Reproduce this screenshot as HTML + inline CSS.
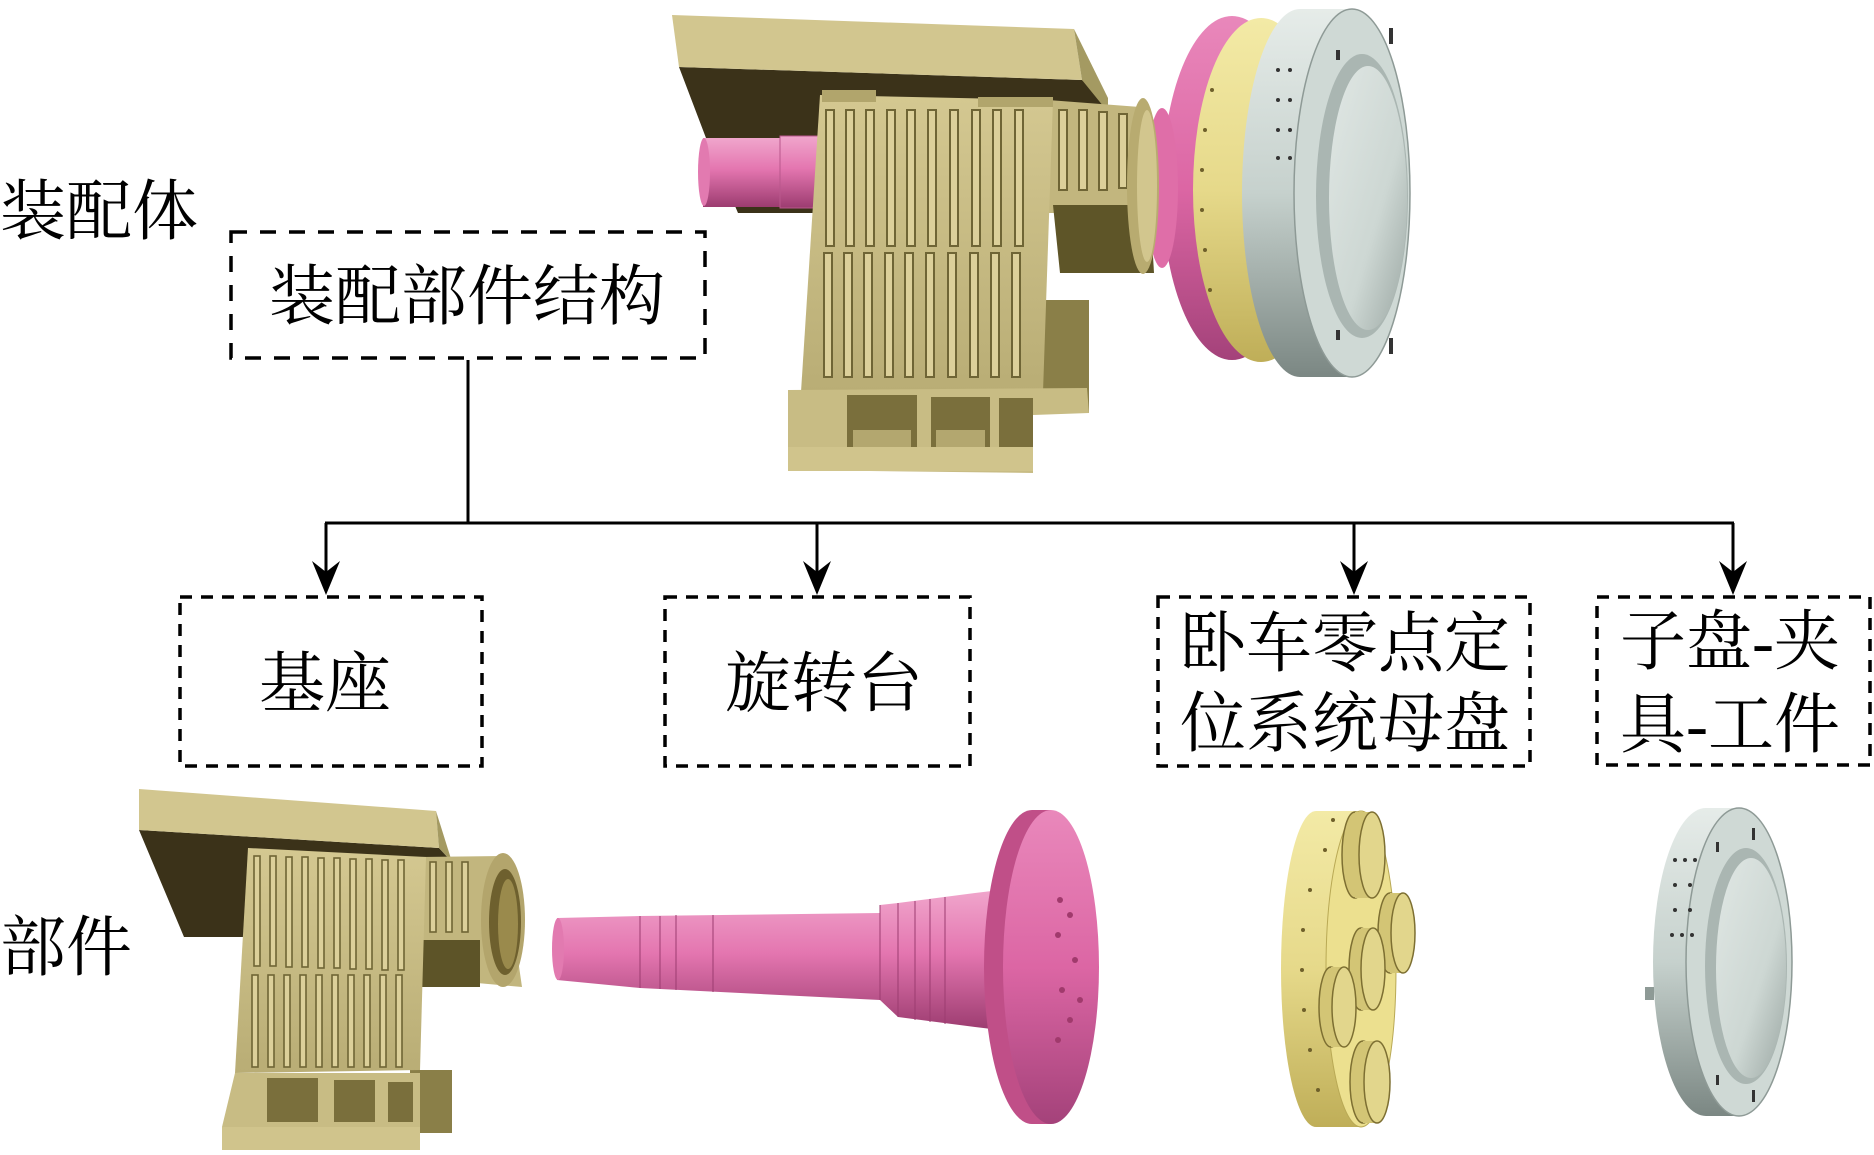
<!DOCTYPE html>
<html><head><meta charset="utf-8"><style>
html,body{margin:0;padding:0;background:#fff;}
svg{display:block;}
.t{font-family:"Liberation Serif","Noto Serif CJK SC",serif;font-size:66px;fill:#000;}
</style></head><body>
<svg width="1874" height="1155" viewBox="0 0 1874 1155" xmlns="http://www.w3.org/2000/svg">
<defs>
 <linearGradient id="pinkV" x1="0" y1="0" x2="0" y2="1">
  <stop offset="0" stop-color="#f0a6cc"/><stop offset="0.45" stop-color="#e476b0"/><stop offset="1" stop-color="#9c3c70"/>
 </linearGradient>
 <linearGradient id="pinkD" x1="0" y1="0" x2="0" y2="1">
  <stop offset="0" stop-color="#e988bb"/><stop offset="0.5" stop-color="#dc66a4"/><stop offset="1" stop-color="#a4427a"/>
 </linearGradient>
 <linearGradient id="yelD" x1="0" y1="0" x2="0" y2="1">
  <stop offset="0" stop-color="#f3eaa6"/><stop offset="0.5" stop-color="#e6d98a"/><stop offset="1" stop-color="#bfae58"/>
 </linearGradient>
 <linearGradient id="grayD" x1="0" y1="0" x2="0" y2="1">
  <stop offset="0" stop-color="#e6ece9"/><stop offset="0.5" stop-color="#c6d1cd"/><stop offset="1" stop-color="#7b8783"/>
 </linearGradient>
 <linearGradient id="grayIn" x1="0" y1="0" x2="1" y2="1">
  <stop offset="0" stop-color="#e0e7e4"/><stop offset="0.6" stop-color="#cdd7d3"/><stop offset="1" stop-color="#9aa6a2"/>
 </linearGradient>
 <linearGradient id="tanV" x1="0" y1="0" x2="0" y2="1">
  <stop offset="0" stop-color="#d4c891"/><stop offset="1" stop-color="#b9ad75"/>
 </linearGradient>
</defs>

<!-- ================= TOP ASSEMBLY ================= -->
<polygon points="679,67 1082,80 1108,100 1108,187 820,187 820,213 738,213 706,138" fill="#3b3219"/>
<polygon points="672,15 1074,29 1082,80 679,67" fill="#d2c68f"/>
<polygon points="1074,29 1108,98 1108,112 1082,80" fill="#a49a62"/>
<rect x="703" y="138" width="117" height="69" fill="url(#pinkV)"/>
<ellipse cx="704" cy="172" rx="6" ry="34" fill="#e27ab0"/>
<rect x="780" y="136" width="40" height="72" fill="url(#pinkV)" stroke="#b9578c" stroke-width="1"/>
<polygon points="1036,300 1089,300 1089,413 1036,413" fill="#8a7f48"/>
<polygon points="1048,100 1140,107 1145,187 1125,213 1048,213" fill="#c2b67e"/>
<polygon points="1053,205 1150,205 1154,273 1060,273" fill="#5e5528"/>
<polygon points="820,95 1053,100 1043,392 801,392" fill="url(#tanV)"/>
<rect x="822" y="90" width="54" height="12" fill="#b1a56c"/>
<rect x="978" y="97" width="75" height="10" fill="#b1a56c"/>
<g fill="#dcd09a" stroke="#6f6535" stroke-width="2">
 <rect x="826" y="110" width="8" height="136"/><rect x="846" y="110" width="8" height="136"/>
 <rect x="866" y="110" width="8" height="136"/><rect x="887" y="110" width="8" height="136"/>
 <rect x="907" y="110" width="8" height="136"/><rect x="928" y="110" width="8" height="136"/>
 <rect x="950" y="110" width="8" height="136"/><rect x="972" y="110" width="8" height="136"/>
 <rect x="993" y="110" width="8" height="136"/><rect x="1015" y="110" width="8" height="136"/>
 <rect x="824" y="253" width="8" height="124"/><rect x="844" y="253" width="8" height="124"/>
 <rect x="864" y="253" width="8" height="124"/><rect x="885" y="253" width="8" height="124"/>
 <rect x="905" y="253" width="8" height="124"/><rect x="926" y="253" width="8" height="124"/>
 <rect x="948" y="253" width="8" height="124"/><rect x="970" y="253" width="8" height="124"/>
 <rect x="991" y="253" width="8" height="124"/><rect x="1012" y="253" width="8" height="124"/>
 <rect x="1059" y="110" width="8" height="80"/><rect x="1079" y="110" width="8" height="80"/>
 <rect x="1099" y="112" width="8" height="78"/><rect x="1119" y="114" width="8" height="74"/>
</g>
<polygon points="788,390 1087,388 1089,413 1033,415 1033,473 788,470" fill="#c8bc84"/>
<g fill="#7a6f3c">
 <rect x="847" y="395" width="70" height="52"/>
 <rect x="931" y="397" width="59" height="50"/>
 <rect x="999" y="398" width="34" height="49"/>
</g>
<g fill="#b3a76f">
 <rect x="853" y="430" width="58" height="17"/>
 <rect x="936" y="430" width="49" height="17"/>
</g>
<rect x="788" y="447" width="245" height="24" fill="#d0c48c"/>
<ellipse cx="1232" cy="188" rx="70" ry="172" fill="url(#pinkD)"/>
<ellipse cx="1162" cy="188" rx="16" ry="80" fill="#df6ea8"/>
<ellipse cx="1143" cy="186" rx="16" ry="88" fill="#b8ab70"/>
<ellipse cx="1147" cy="186" rx="10" ry="76" fill="#d2c68e"/>
<ellipse cx="1261" cy="190" rx="68" ry="172" fill="url(#yelD)"/>
<g fill="#6e5f2a">
 <circle cx="1212" cy="90" r="2"/><circle cx="1205" cy="130" r="2"/><circle cx="1202" cy="170" r="2"/>
 <circle cx="1202" cy="210" r="2"/><circle cx="1205" cy="250" r="2"/><circle cx="1210" cy="290" r="2"/>
</g>
<ellipse cx="1300" cy="193" rx="58" ry="184" fill="url(#grayD)"/>
<rect x="1300" y="9" width="52" height="368" fill="url(#grayD)"/>
<ellipse cx="1352" cy="193" rx="58" ry="184" fill="#cfd9d5" stroke="#8e9a96" stroke-width="1.5"/>
<ellipse cx="1362" cy="196" rx="46" ry="142" fill="#aab6b2"/>
<ellipse cx="1368" cy="198" rx="39" ry="132" fill="url(#grayIn)"/>
<g fill="#333">
 <circle cx="1278" cy="70" r="2"/><circle cx="1290" cy="70" r="2"/><circle cx="1278" cy="100" r="2"/><circle cx="1290" cy="100" r="2"/>
 <circle cx="1278" cy="130" r="2"/><circle cx="1290" cy="130" r="2"/><circle cx="1278" cy="158" r="2"/><circle cx="1290" cy="158" r="2"/>
 <rect x="1389" y="28" width="4" height="16"/><rect x="1389" y="338" width="4" height="16"/>
 <rect x="1336" y="50" width="4" height="10"/><rect x="1336" y="330" width="4" height="10"/>
</g>

<!-- ================= BOTTOM: BASE ================= -->
<polygon points="139,830 439,848 452,862 452,870 248,860 244,937 184,937" fill="#3b3219"/>
<polygon points="139,789 436,811 439,848 139,830" fill="#d2c68f"/>
<polygon points="436,811 452,862 439,848" fill="#a49a62"/>
<polygon points="410,1070 452,1070 452,1133 410,1133" fill="#8a7f48"/>
<polygon points="420,857 503,856 522,987 477,983 420,980" fill="#c2b67e"/>
<rect x="420" y="940" width="60" height="47" fill="#5d5428"/>
<polygon points="248,848 426,857 420,1070 235,1073" fill="url(#tanV)"/>
<g fill="#dcd09a" stroke="#6f6535" stroke-width="1.6">
 <rect x="254" y="856" width="6" height="110"/><rect x="270" y="856" width="6" height="110"/>
 <rect x="286" y="857" width="6" height="110"/><rect x="302" y="857" width="6" height="110"/>
 <rect x="318" y="858" width="6" height="110"/><rect x="334" y="858" width="6" height="110"/>
 <rect x="350" y="859" width="6" height="110"/><rect x="366" y="859" width="6" height="110"/>
 <rect x="382" y="860" width="6" height="110"/><rect x="398" y="860" width="6" height="110"/>
 <rect x="252" y="975" width="6" height="92"/><rect x="268" y="975" width="6" height="92"/>
 <rect x="284" y="975" width="6" height="92"/><rect x="300" y="975" width="6" height="92"/>
 <rect x="316" y="975" width="6" height="92"/><rect x="332" y="975" width="6" height="92"/>
 <rect x="348" y="975" width="6" height="92"/><rect x="364" y="975" width="6" height="92"/>
 <rect x="380" y="975" width="6" height="92"/><rect x="396" y="975" width="6" height="92"/>
 <rect x="430" y="862" width="6" height="70"/><rect x="446" y="862" width="6" height="70"/>
 <rect x="462" y="862" width="6" height="70"/>
</g>
<polygon points="235,1073 420,1073 420,1148 222,1150 222,1127" fill="#c8bc84"/>
<g fill="#7a6f3c">
 <rect x="267" y="1078" width="51" height="44"/><rect x="334" y="1080" width="41" height="42"/><rect x="388" y="1082" width="25" height="40"/>
</g>
<rect x="222" y="1127" width="198" height="23" fill="#d0c48c"/>
<ellipse cx="503" cy="920" rx="22" ry="67" fill="#b3a56c"/>
<ellipse cx="505" cy="922" rx="16" ry="53" fill="#6e602e"/>
<ellipse cx="508" cy="924" rx="10" ry="45" fill="#9a8a4c"/>

<!-- ================= BOTTOM: PINK SHAFT ================= -->
<polygon points="557,918 640,916 880,913 880,905 898,903 975,893 1000,890 1000,1030 975,1027 898,1017 880,1000 640,988 557,980" fill="url(#pinkV)"/>
<ellipse cx="558" cy="949" rx="6" ry="31" fill="#e27ab0"/>
<g stroke="#9c3c70" stroke-width="1" fill="none">
 <line x1="640" y1="916" x2="640" y2="988"/><line x1="660" y1="916" x2="660" y2="989"/>
 <line x1="676" y1="915" x2="676" y2="990"/><line x1="713" y1="915" x2="713" y2="992"/>
 <line x1="880" y1="905" x2="880" y2="1000"/><line x1="898" y1="903" x2="898" y2="1017"/>
 <line x1="915" y1="901" x2="915" y2="1020"/><line x1="930" y1="899" x2="930" y2="1022"/>
 <line x1="945" y1="897" x2="945" y2="1024"/>
</g>
<ellipse cx="1032" cy="967" rx="48" ry="157" fill="#c04f88"/>
<rect x="1032" y="810" width="19" height="314" fill="#c04f88"/>
<ellipse cx="1051" cy="967" rx="48" ry="157" fill="url(#pinkD)"/>
<g fill="#a03a6c">
 <circle cx="1060" cy="900" r="3"/><circle cx="1070" cy="915" r="3"/><circle cx="1058" cy="935" r="3"/>
 <circle cx="1075" cy="960" r="3"/><circle cx="1062" cy="990" r="3"/><circle cx="1070" cy="1020" r="3"/>
 <circle cx="1058" cy="1040" r="3"/><circle cx="1080" cy="1000" r="3"/>
</g>

<!-- ================= BOTTOM: YELLOW DISC ================= -->
<ellipse cx="1316" cy="969" rx="35" ry="158" fill="url(#yelD)"/>
<rect x="1316" y="811" width="45" height="316" fill="url(#yelD)"/>
<ellipse cx="1361" cy="969" rx="35" ry="158" fill="#ece08f" stroke="#b9a955" stroke-width="1"/>
<g fill="#d3c575" stroke="#7d6f32" stroke-width="1.5">
 <ellipse cx="1355" cy="855" rx="13" ry="43"/><rect x="1355" y="812" width="17" height="86" stroke="none"/><ellipse cx="1372" cy="855" rx="13" ry="43" fill="#e2d68c"/>
 <ellipse cx="1390" cy="933" rx="12" ry="40"/><rect x="1390" y="893" width="13" height="80" stroke="none"/><ellipse cx="1403" cy="933" rx="12" ry="40" fill="#e2d68c"/>
 <ellipse cx="1361" cy="969" rx="12" ry="41"/><rect x="1361" y="928" width="12" height="82" stroke="none"/><ellipse cx="1373" cy="969" rx="12" ry="41" fill="#e2d68c"/>
 <ellipse cx="1331" cy="1007" rx="12" ry="40"/><rect x="1331" y="967" width="13" height="80" stroke="none"/><ellipse cx="1344" cy="1007" rx="12" ry="40" fill="#e2d68c"/>
 <ellipse cx="1363" cy="1082" rx="13" ry="41"/><rect x="1363" y="1041" width="14" height="82" stroke="none"/><ellipse cx="1377" cy="1082" rx="13" ry="41" fill="#e2d68c"/>
</g>
<g fill="#6e5f2a">
 <circle cx="1333" cy="820" r="2"/><circle cx="1325" cy="850" r="2"/><circle cx="1310" cy="890" r="2"/>
 <circle cx="1303" cy="930" r="2"/><circle cx="1302" cy="970" r="2"/><circle cx="1304" cy="1010" r="2"/>
 <circle cx="1310" cy="1050" r="2"/><circle cx="1318" cy="1090" r="2"/>
</g>

<!-- ================= BOTTOM: GRAY RING ================= -->
<ellipse cx="1706" cy="962" rx="53" ry="154" fill="url(#grayD)"/>
<rect x="1706" y="808" width="33" height="308" fill="url(#grayD)"/>
<ellipse cx="1739" cy="962" rx="53" ry="154" fill="#cfd9d5" stroke="#8e9a96" stroke-width="1.5"/>
<ellipse cx="1746" cy="966" rx="41" ry="118" fill="#aab6b2"/>
<ellipse cx="1751" cy="968" rx="35" ry="110" fill="url(#grayIn)"/>
<rect x="1645" y="987" width="9" height="13" fill="#8e9a96"/>
<g fill="#333">
 <circle cx="1675" cy="860" r="2"/><circle cx="1685" cy="860" r="2"/><circle cx="1695" cy="860" r="2"/>
 <circle cx="1675" cy="885" r="2"/><circle cx="1690" cy="885" r="2"/>
 <circle cx="1675" cy="910" r="2"/><circle cx="1690" cy="910" r="2"/>
 <circle cx="1672" cy="935" r="2"/><circle cx="1682" cy="935" r="2"/><circle cx="1692" cy="935" r="2"/>
 <rect x="1752" y="828" width="3" height="12"/><rect x="1716" y="842" width="3" height="10"/>
 <rect x="1716" y="1075" width="3" height="10"/><rect x="1752" y="1090" width="3" height="12"/>
</g>

<!-- ================= CONNECTORS ================= -->
<g stroke="#000" stroke-width="3" fill="none">
 <line x1="468" y1="360" x2="468" y2="523"/>
 <line x1="325" y1="523" x2="1734" y2="523"/>
 <line x1="326" y1="523" x2="326" y2="575"/>
 <line x1="817" y1="523" x2="817" y2="575"/>
 <line x1="1354" y1="523" x2="1354" y2="575"/>
 <line x1="1733" y1="523" x2="1733" y2="575"/>
</g>
<g fill="#000">
 <polygon points="326,595 312,561 326,572 340,561"/>
 <polygon points="817,595 803,561 817,572 831,561"/>
 <polygon points="1354,595 1340,561 1354,572 1368,561"/>
 <polygon points="1733,595 1719,561 1733,572 1747,561"/>
</g>

<!-- ================= BOXES ================= -->
<g fill="none" stroke="#000" stroke-width="3.5">
 <rect x="231" y="232" width="474" height="126" stroke-dasharray="16 13"/>
 <rect x="180" y="597" width="302" height="169" stroke-dasharray="12 9"/>
 <rect x="665" y="597" width="305" height="169" stroke-dasharray="12 9"/>
 <rect x="1158" y="597" width="372" height="169" stroke-dasharray="12 9"/>
 <rect x="1597" y="597" width="273" height="168" stroke-dasharray="12 9"/>
</g>

<!-- ================= TEXT ================= -->
<text class="t" x="99" y="234" text-anchor="middle">装配体</text>
<text class="t" x="467" y="319" text-anchor="middle">装配部件结构</text>
<text class="t" x="325" y="706" text-anchor="middle">基座</text>
<text class="t" x="824" y="706" text-anchor="middle">旋转台</text>
<text class="t" x="1345" y="666" text-anchor="middle">卧车零点定</text>
<text class="t" x="1345" y="746" text-anchor="middle">位系统母盘</text>
<text class="t" x="1730" y="664" text-anchor="middle">子盘-夹</text>
<text class="t" x="1730" y="747" text-anchor="middle">具-工件</text>
<text class="t" x="66" y="970" text-anchor="middle">部件</text>
</svg>
</body></html>
